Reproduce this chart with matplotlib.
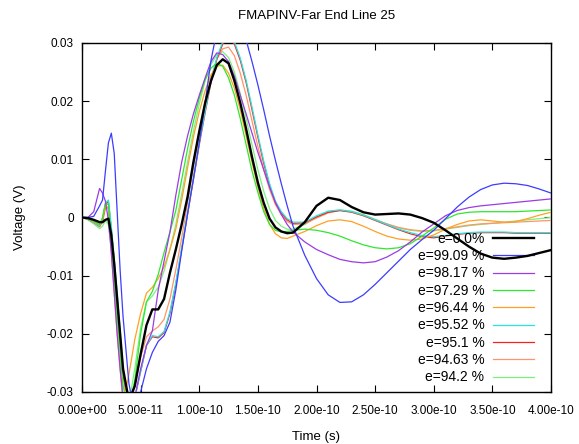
import matplotlib
matplotlib.use("Agg")
import matplotlib.pyplot as plt
import numpy as np

plt.rcParams['font.family'] = ['Liberation Sans', 'DejaVu Sans']

# time in units of 1e-11 s
t = [0, 0.5, 1.0, 1.5, 1.75, 2.0, 2.25, 2.5, 2.75, 3.0, 3.25, 3.5, 4.0, 4.5, 5.0, 5.5, 6.0, 6.5, 7.0, 7.5,
     8.0, 8.5, 9.0, 9.5, 10.0, 10.5, 11.0, 11.5, 12.0, 12.5, 13.0, 13.5, 14.0, 14.5,
     15.0, 15.5, 16.0, 16.5, 17.0, 17.5, 18.0, 19.0, 20.0, 21.0, 22.0, 23.0, 24.0,
     25.0, 26.0, 27.0, 28.0, 29.0, 30.0, 31.0, 32.0, 33.0, 34.0, 35.0, 36.0, 37.0,
     38.0, 39.0, 40.0]

labels = ["e=0.0%", "e=99.09 %", "e=98.17 %", "e=97.29 %", "e=96.44 %",
          "e=95.52 %", "e=95.1 %", "e=94.63 %", "e=94.2 %"]

v_e00 = [0, -0.0001, -0.0004, -0.0008, -0.0008, -0.0004, -0.0002, -0.003, -0.008, -0.014, -0.02, -0.026,
         -0.0315, -0.029, -0.0235, -0.0185, -0.0158, -0.0158, -0.014, -0.0095,
         -0.0055, -0.0012, 0.0035, 0.0095, 0.0148, 0.0197, 0.0235, 0.0262, 0.0272, 0.0265,
         0.0235, 0.0197, 0.0152, 0.0104,
         0.006, 0.0025, -0.0002, -0.0017, -0.0024, -0.0027, -0.0026, -0.0008, 0.002, 0.0034,
         0.003, 0.0018, 0.0009,
         0.0005, 0.0006, 0.0007, 0.0005, -0.0001, -0.0009, -0.0022, -0.0036, -0.005, -0.0062,
         -0.0069, -0.0071, -0.0069,
         -0.0066, -0.0061, -0.0056]

v_e9909 = [0, 0, 0.0002, 0.002, 0.003, 0.008, 0.0128, 0.0145, 0.011, 0.001, -0.009, -0.017,
           -0.0285, -0.034, -0.030, -0.026, -0.0232, -0.0213, -0.0203, -0.018,
           -0.0125, -0.0058, 0.0006, 0.0066, 0.0128, 0.0197, 0.027, 0.032, 0.0345, 0.0352,
           0.0345, 0.0328, 0.0305, 0.0268,
           0.0228, 0.0185, 0.014, 0.0098, 0.0058, 0.002, -0.0015, -0.0065, -0.0105, -0.0133,
           -0.0146, -0.0145, -0.0133,
           -0.0115, -0.0095, -0.0075, -0.0055, -0.0038, -0.0022, -0.0002, 0.0018, 0.0035, 0.0048,
           0.0056, 0.0059, 0.0058,
           0.0055, 0.0049, 0.0042]

v_e9817 = [0, 0, 0.001, 0.005, 0.0042, 0.0028, -0.0005, -0.006, -0.013, -0.02, -0.026, -0.031,
           -0.034, -0.031, -0.026, -0.022, -0.0195, -0.0125, -0.0075, -0.0025,
           0.0038, 0.0095, 0.014, 0.0178, 0.021, 0.024, 0.0268, 0.0283, 0.028, 0.0268,
           0.0243, 0.021, 0.0178, 0.0145,
           0.0112, 0.0082, 0.0052, 0.0026, 0.0005, -0.0012, -0.0025, -0.0042, -0.0055, -0.0064,
           -0.0072, -0.0076, -0.0078,
           -0.0076, -0.0068, -0.0057, -0.0042, -0.0025, -0.0011, 0.0003, 0.0012, 0.0017, 0.002,
           0.0022, 0.0024, 0.0026,
           0.0028, 0.003, 0.0032]

v_e9729 = [0, -0.0002, -0.0006, -0.0012, 0.0, 0.0025, 0.0022, -0.004, -0.0105, -0.017, -0.023, -0.029,
           -0.033, -0.028, -0.02, -0.0145, -0.0127, -0.0098, -0.006, -0.0025,
           0.0012, 0.0065, 0.0118, 0.0165, 0.0205, 0.0237, 0.0257, 0.0265, 0.026, 0.024,
           0.021, 0.017, 0.0125, 0.008,
           0.0043, 0.001, -0.0012, -0.0022, -0.0025, -0.0024, -0.0022, -0.002, -0.0022, -0.0026,
           -0.0032, -0.004, -0.0047,
           -0.0052, -0.0054, -0.0052, -0.0045, -0.0032, -0.0018, -0.0003, 0.0006, 0.0009, 0.001,
           0.001, 0.001, 0.001,
           0.0011, 0.0012, 0.0013]

v_e9644 = [0, -0.0002, -0.0007, -0.0013, -0.0002, 0.0022, 0.0015, -0.006, -0.013, -0.02, -0.026, -0.032,
           -0.027, -0.021, -0.0165, -0.013, -0.012, -0.0105, -0.0085, -0.0055,
           -0.002, 0.003, 0.0085, 0.0138, 0.0182, 0.0218, 0.0245, 0.026, 0.0262, 0.0248,
           0.0222, 0.0185, 0.014, 0.0095,
           0.0052, 0.0015, -0.0012, -0.0028, -0.0035, -0.0036, -0.0032, -0.0024, -0.0014, -0.0006,
           -0.0004, -0.0007, -0.0015,
           -0.0024, -0.0032, -0.0037, -0.0039, -0.0037, -0.003, -0.002, -0.0012, -0.0006, -0.0004,
           -0.0006, -0.0008, -0.0007,
           -0.0002, 0.0004, 0.0009]

v_e9552 = [0, -0.0003, -0.0008, -0.0015, -0.0003, 0.0025, 0.003, -0.0015, -0.007, -0.013, -0.0195, -0.026,
           -0.033, -0.031, -0.0265, -0.022, -0.0203, -0.0205, -0.0196, -0.0162,
           -0.0112, -0.0052, 0.0008, 0.0068, 0.0128, 0.0183, 0.0235, 0.0275, 0.0302, 0.0312,
           0.0302, 0.0274, 0.0236, 0.019,
           0.0142, 0.0097, 0.0058, 0.0028, 0.001, -0.0002, -0.0008, -0.0008, 0.0003, 0.0011,
           0.0013, 0.001, 0.0004,
           -0.0004, -0.0012, -0.002, -0.0026, -0.0031, -0.0033, -0.0031, -0.0028, -0.0026, -0.0025,
           -0.0025, -0.0025, -0.0026,
           -0.0026, -0.0026, -0.0026]

v_e951 = [0, -0.0003, -0.0008, -0.0015, -0.0005, 0.0022, 0.0028, -0.002, -0.0075, -0.014, -0.0205, -0.027,
          -0.033, -0.031, -0.0265, -0.022, -0.0205, -0.0207, -0.0198, -0.0165,
          -0.0115, -0.0055, 0.0005, 0.0065, 0.0125, 0.018, 0.0232, 0.0272, 0.0298, 0.031,
          0.0298, 0.027, 0.0232, 0.0185,
          0.0138, 0.0093, 0.0055, 0.0025, 0.0008, -0.0004, -0.001, -0.0009, 0.0001, 0.0009,
          0.0012, 0.0009, 0.0003,
          -0.0005, -0.0013, -0.0021, -0.0028, -0.0033, -0.0035, -0.0032, -0.0029, -0.0027, -0.0026,
          -0.0026, -0.0026, -0.0027,
          -0.0027, -0.0027, -0.0027]

v_e9463 = [0, -0.0003, -0.0009, -0.0016, -0.0008, 0.0015, 0.0018, -0.003, -0.009, -0.015, -0.021, -0.027,
           -0.032, -0.029, -0.024, -0.0205, -0.0195, -0.0188, -0.0175, -0.014,
           -0.009, -0.0035, 0.0025, 0.0085, 0.0142, 0.0195, 0.024, 0.0272, 0.029, 0.0293,
           0.0278, 0.0248, 0.021, 0.0166,
           0.0122, 0.0082, 0.0048, 0.0022, 0.0005, -0.0007, -0.0012, -0.0011, -0.0001, 0.0008,
           0.0012, 0.001, 0.0004,
           -0.0004, -0.0011, -0.0017, -0.0021, -0.0023, -0.0022, -0.0019, -0.0016, -0.0013, -0.0011,
           -0.001, -0.0009, -0.0008,
           -0.0007, -0.0006, -0.0005]

v_e942 = [0, -0.0004, -0.0011, -0.0019, -0.0015, -0.0005, -0.0012, -0.005, -0.011, -0.017, -0.023, -0.029,
          -0.032, -0.026, -0.019, -0.0145, -0.0135, -0.012, -0.0092, -0.0055,
          -0.0012, 0.004, 0.0095, 0.0148, 0.0195, 0.0235, 0.0263, 0.028, 0.0285, 0.0275,
          0.025, 0.0213, 0.017, 0.0125,
          0.0082, 0.0045, 0.0015, -0.0005, -0.0015, -0.002, -0.002, -0.0012, 0.0001, 0.001,
          0.0013, 0.0011, 0.0005,
          -0.0003, -0.0011, -0.0018, -0.0022, -0.0024, -0.0023, -0.002, -0.0017, -0.0014, -0.0012,
          -0.001, -0.0008, -0.0006,
          -0.0004, -0.0002, 0.0]

series = [v_e00, v_e9909, v_e9817, v_e9729, v_e9644, v_e9552, v_e951, v_e9463, v_e942]
colors = ['#000000', '#3c3cff', '#9b3be6', '#2ee82e', '#ffa024', '#22e6e6',
          '#ff1e1e', '#ff9468', '#7cf07c']
widths = [1.7, 0.9, 0.9, 0.9, 0.9, 0.9, 0.9, 0.9, 0.9]

xticks = [0, 5e-11, 1e-10, 1.5e-10, 2e-10, 2.5e-10, 3e-10, 3.5e-10, 4e-10]
xticklabels = ["0.00e+00", "5.00e-11", "1.00e-10", "1.50e-10", "2.00e-10",
               "2.50e-10", "3.00e-10", "3.50e-10", "4.00e-10"]
yticks = [-0.03, -0.02, -0.01, 0, 0.01, 0.02, 0.03]
yticklabels = ["-0.03", "-0.02", "-0.01", "0", "0.01", "0.02", "0.03"]

fig = plt.figure(figsize=(5.79, 4.44), dpi=100)
ax = fig.add_axes([82/579, 1-392/444, (551-82)/579, (392-43)/444])

tt = np.array(t) * 1e-11
# draw in reverse so the black line is on top
for i in range(len(series)-1, -1, -1):
    ax.plot(tt, series[i], color=colors[i], lw=widths[i], label=labels[i],
            zorder=3 + (5 if i == 0 else 0))

ax.set_xlim(0, 4e-10)
ax.set_ylim(-0.03, 0.03)
ax.set_xticks(xticks)
ax.set_xticklabels(xticklabels, fontsize=8.5)
ax.set_yticks(yticks)
ax.set_yticklabels(yticklabels, fontsize=8.5)
ax.tick_params(direction='in', length=5, width=0.8, top=True, right=True)
ax.tick_params(axis='x', pad=9)
ax.tick_params(axis='y', pad=6)
for s in ax.spines.values():
    s.set_linewidth(1.0)

ax.set_title("FMAPINV-Far End Line 25", fontsize=9.5, pad=17)
ax.set_xlabel("Time (s)", fontsize=9.5, labelpad=10.5)
ax.set_ylabel("Voltage (V)", fontsize=9.5, labelpad=15)

handles, labs = ax.get_legend_handles_labels()
handles = handles[::-1]
labs = labs[::-1]
leg = ax.legend(handles, labs, loc='lower right', frameon=False, markerfirst=False,
                fontsize=10, handlelength=3.0, labelspacing=0.24, borderaxespad=0.15,
                handletextpad=0.6, bbox_to_anchor=(0.981, 0.0))
for txt in leg.get_texts():
    txt.set_ha('right')

fig.savefig("out.png", dpi=100)
